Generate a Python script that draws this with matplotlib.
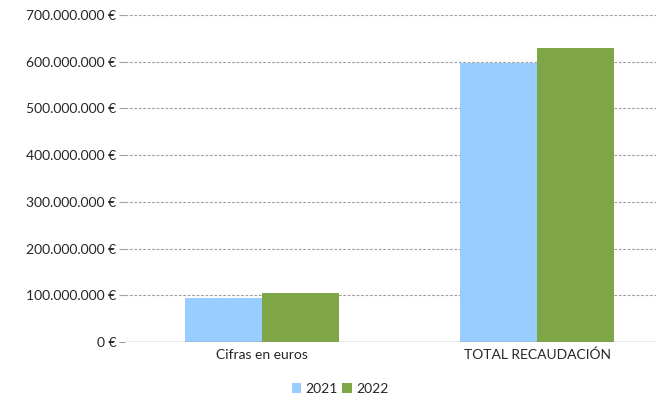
import matplotlib
matplotlib.use("Agg")
import matplotlib.pyplot as plt
import numpy as np
from matplotlib.ticker import FuncFormatter

categories = ["Cifras en euros", "TOTAL RECAUDACIÓN"]
series_names = ["2021", "2022"]
values_2021 = [95_000_000, 598_000_000]
values_2022 = [105_000_000, 630_000_000]
colors = ["#99CCFF", "#7EA646"]

plt.rcParams['font.family'] = ['Lato', 'DejaVu Sans']

W, H = 656, 401
fig = plt.figure(figsize=(W / 100, H / 100), dpi=100)
left = 124.5 / W
bottom = (H - 342) / H
top = (H - 15) / H
ax = fig.add_axes([left, bottom, 1 - left, top - bottom])

x = np.arange(len(categories))
bw = 0.28
ax.bar(x - bw / 2, values_2021, bw, color=colors[0], label=series_names[0], zorder=3)
ax.bar(x + bw / 2, values_2022, bw, color=colors[1], label=series_names[1], zorder=3)

ax.set_xlim(-0.5, (W - 124.5) / 275 - 0.5)
ax.set_ylim(0, 700_000_000)
ax.set_yticks(np.arange(0, 700_000_001, 100_000_000))

def fmt(v, pos):
    s = f"{int(round(v)):,}".replace(",", ".")
    return f"{s} €"

ax.yaxis.set_major_formatter(FuncFormatter(fmt))
ax.set_xticks(x)
ax.set_xticklabels(categories)

for y in np.arange(100_000_000, 700_000_001, 100_000_000):
    ax.axhline(y, color="#A0A0A0", lw=0.8, ls=(0, (2.5, 1.5)), zorder=1)
ax.axhline(0, color="#8C8C8C", lw=1.0, zorder=4)

for s in ["top", "right", "left", "bottom"]:
    ax.spines[s].set_visible(False)

ax.tick_params(axis="y", length=4, color="#A0A0A0", width=0.8, pad=2,
               labelsize=10, labelcolor="#262626")
ax.tick_params(axis="x", length=0, pad=5, labelsize=10, labelcolor="#262626")

leg = fig.legend(loc="center", bbox_to_anchor=(340 / W, 1 - 389 / H), ncol=2,
                 frameon=False, fontsize=10, handlelength=0.7, handleheight=0.7,
                 handletextpad=0.3, columnspacing=0.3, borderaxespad=0)
for t in leg.get_texts():
    t.set_color("#262626")

fig.savefig("out.png", dpi=100)
